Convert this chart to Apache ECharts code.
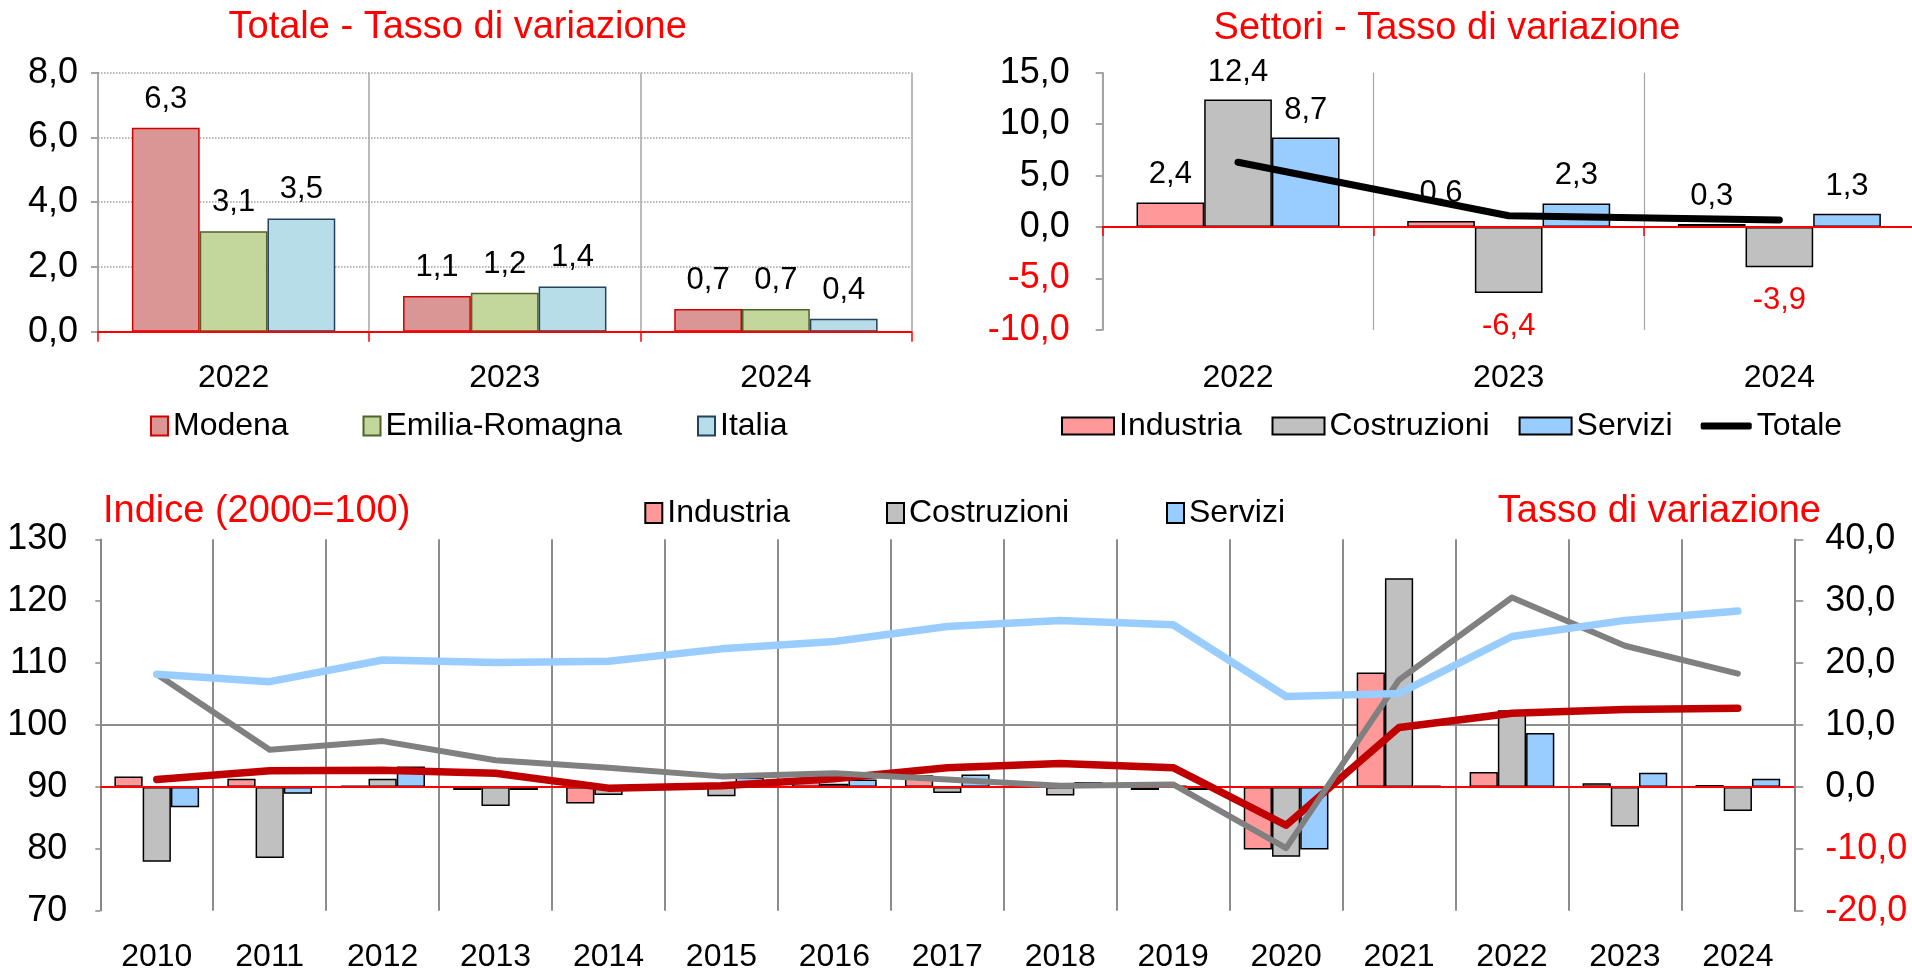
<!DOCTYPE html>
<html>
<head>
<meta charset="utf-8">
<script src="https://cdn.jsdelivr.net/npm/echarts@6/dist/echarts.min.js"></script>
<style>
  html, body { margin: 0; padding: 0; background: #fff; }
  #chart { width: 1912px; height: 971px; }
</style>
</head>
<body>
<div id="chart"></div>
<script>
// ---- Totale: tasso di variazione ----
const totYears = ['2022', '2023', '2024'];
const modena = [6.3, 1.1, 0.7];
const emiliaRomagna = [3.1, 1.2, 0.7];
const italia = [3.5, 1.4, 0.4];

// ---- Settori: tasso di variazione ----
const secYears = ['2022', '2023', '2024'];
const secIndustria = [2.4, 0.6, 0.3];
const secCostruzioni = [12.4, -6.4, -3.9];
const secServizi = [8.7, 2.3, 1.3];
const secTotale = [6.3, 1.1, 0.7];

// ---- Serie storica: indice (2000=100) e tasso di variazione ----
const years = ['2010', '2011', '2012', '2013', '2014', '2015', '2016', '2017',
               '2018', '2019', '2020', '2021', '2022', '2023', '2024'];
const idxIndustria   = [91.2, 92.6, 92.7, 92.2, 89.8, 90.2, 91.3, 93.1, 93.8, 93.1, 83.8, 99.6, 101.9, 102.5, 102.7];
const idxCostruzioni = [108.2, 96.0, 97.4, 94.3, 93.1, 91.7, 92.2, 91.2, 90.2, 90.4, 80.1, 107.3, 120.6, 112.8, 108.3];
const idxServizi     = [108.2, 107.0, 110.5, 110.1, 110.3, 112.3, 113.5, 115.9, 116.9, 116.2, 104.6, 105.1, 114.3, 116.9, 118.4];
const varIndustria   = [1.7, 1.3, 0.2, -0.5, -2.7, 0.4, 1.0, 1.9, 0.7, -0.5, -10.1, 18.5, 2.4, 0.6, 0.3];
const varCostruzioni = [-12.1, -11.5, 1.3, -3.1, -1.3, -1.5, 0.5, -1.0, -1.4, 0.2, -11.3, 33.7, 12.4, -6.4, -3.9];
const varServizi     = [-3.3, -1.1, 3.3, -0.5, 0.2, 1.5, 1.2, 2.0, 0.8, -0.5, -10.1, 0.2, 8.7, 2.3, 1.3];

const FONT = '"Liberation Sans", Arial, Helvetica, sans-serif';
const RED = '#FF0000';
const AXIS_GRAY = '#868686';
const fmt = v => Number(v).toFixed(1).replace('.', ',');
const signColor = v => (parseFloat(v) < 0 ? RED : '#000000');

const chart = echarts.init(document.getElementById('chart'), null, { renderer: 'canvas' });

function valueAxis(gridIndex, min, max, interval, extra) {
  return Object.assign({
    type: 'value', gridIndex, min, max, interval,
    axisLine: { show: true, lineStyle: { color: AXIS_GRAY, width: 1.5 } },
    axisTick: { show: true, length: 7, lineStyle: { color: AXIS_GRAY, width: 1.5 } },
    axisLabel: { fontFamily: FONT, fontSize: 36, color: '#000', margin: 20, formatter: fmt },
    splitLine: { show: false }
  }, extra || {});
}

function legendEntry(name, left, top, w, h, icon) {
  return {
    data: [{ name, icon: icon || 'rect' }],
    left, top, itemWidth: w, itemHeight: h,
    padding: 0, itemGap: 0, selectedMode: false,
    textStyle: { fontFamily: FONT, fontSize: 32, color: '#000' }
  };
}

function barLabel(distance) {
  return {
    show: true, position: 'top', distance,
    fontFamily: FONT, fontSize: 31, color: '#000',
    formatter: p => fmt(p.value)
  };
}

// negative values get their label under the bar, in red
const signedData = arr => arr.map(v => v < 0
  ? { value: v, label: { position: 'bottom', distance: 18, color: RED } }
  : { value: v });

const sectorBarStyle = color => ({ color, borderColor: '#000', borderWidth: 1.5 });

const titleText = (text, x, y, align) => ({
  type: 'text', x, y,
  style: { text, fill: RED, fontFamily: FONT, fontSize: 38, align, verticalAlign: 'middle' }
});

const option = {
  animation: false,
  backgroundColor: '#ffffff',
  textStyle: { fontFamily: FONT },
  grid: [
    { left: 98, top: 72.7, width: 813.5, height: 259, outerBoundsMode: 'none' },
    { left: 1102.7, top: 72.7, width: 812, height: 257.3, outerBoundsMode: 'none' },
    { left: 100.3, top: 539.3, width: 1694, height: 371.4, outerBoundsMode: 'none' }
  ],
  xAxis: [
    {
      type: 'category', gridIndex: 0, data: totYears, z: 3,
      axisLine: { show: true, lineStyle: { color: RED, width: 2 } },
      axisTick: { show: true, length: 10, lineStyle: { color: RED, width: 1.5 } },
      axisLabel: { fontFamily: FONT, fontSize: 32, color: '#000', margin: 30, interval: 0 },
      splitLine: { show: true, lineStyle: { color: '#A6A6A6', width: 1.5 } }
    },
    {
      type: 'category', gridIndex: 1, data: secYears, z: 3,
      axisLine: { show: true, onZero: true, lineStyle: { color: RED, width: 2 } },
      axisTick: { show: true, length: 9, lineStyle: { color: RED, width: 1.5 } },
      axisLabel: { fontFamily: FONT, fontSize: 32, color: '#000', margin: 32, interval: 0 },
      splitLine: { show: true, lineStyle: { color: '#A6A6A6', width: 1.2 } }
    },
    {
      type: 'category', gridIndex: 2, data: years,
      axisLine: { show: false },
      axisTick: { show: false },
      axisLabel: { fontFamily: FONT, fontSize: 32, color: '#000', margin: 30, interval: 0 },
      splitLine: { show: true, lineStyle: { color: '#8C8C8C', width: 2 } }
    }
  ],
  yAxis: [
    valueAxis(0, 0, 8, 2, {
      splitLine: { show: true, lineStyle: { color: '#A0A0A0', type: 'dotted', width: 1.5 } }
    }),
    valueAxis(1, -10, 15, 5, {
      axisLabel: { fontFamily: FONT, fontSize: 36, margin: 33, formatter: fmt, color: signColor }
    }),
    valueAxis(2, 70, 130, 10, {
      position: 'left',
      axisTick: { show: true, length: 5, lineStyle: { color: AXIS_GRAY, width: 1.5 } },
      axisLabel: { fontFamily: FONT, fontSize: 36, color: '#000', margin: 33 }
    }),
    valueAxis(2, -20, 40, 10, {
      position: 'right',
      axisTick: { show: true, length: 9, lineStyle: { color: AXIS_GRAY, width: 1.5 } },
      axisLabel: { fontFamily: FONT, fontSize: 36, margin: 31, formatter: fmt, color: signColor }
    })
  ],
  legend: [
    legendEntry('Modena', 150, 410, 17, 19),
    legendEntry('Emilia-Romagna', 362.5, 410, 17, 19),
    legendEntry('Italia', 697, 410, 17, 19),
    legendEntry('Industria', 1061, 410, 52, 17),
    legendEntry('Costruzioni', 1271.5, 410, 52, 17),
    legendEntry('Servizi', 1518.6, 410, 52, 17),
    legendEntry('Totale', 1700.7, 410, 51, 7, 'roundRect'),
    legendEntry('Industria', 644.3, 497, 17, 20),
    legendEntry('Costruzioni', 886, 497, 17, 20),
    legendEntry('Servizi', 1166, 497, 17, 20)
  ],
  graphic: [
    titleText('Totale - Tasso di variazione', 457.7, 28, 'center'),
    titleText('Settori - Tasso di variazione', 1447, 29, 'center'),
    titleText('Indice (2000=100)', 103, 512, 'left'),
    titleText('Tasso di variazione', 1821, 512, 'right')
  ],
  series: [
    // Totale: Modena / Emilia-Romagna / Italia
    { name: 'Modena', type: 'bar', xAxisIndex: 0, yAxisIndex: 0, data: modena,
      barGap: '0%', barCategoryGap: '25%',
      itemStyle: { color: '#D99694', borderColor: '#D00000', borderWidth: 1.5 }, label: barLabel(13) },
    { name: 'Emilia-Romagna', type: 'bar', xAxisIndex: 0, yAxisIndex: 0, data: emiliaRomagna,
      barGap: '0%', barCategoryGap: '25%',
      itemStyle: { color: '#C3D69B', borderColor: '#4F6228', borderWidth: 1.5 }, label: barLabel(13) },
    { name: 'Italia', type: 'bar', xAxisIndex: 0, yAxisIndex: 0, data: italia,
      barGap: '0%', barCategoryGap: '25%',
      itemStyle: { color: '#B7DEE8', borderColor: '#254061', borderWidth: 1.5 }, label: barLabel(13) },

    // Settori
    { name: 'Industria', type: 'bar', xAxisIndex: 1, yAxisIndex: 1, data: signedData(secIndustria),
      barGap: '0%', barCategoryGap: '25%', itemStyle: sectorBarStyle('#FF9999'), label: barLabel(12) },
    { name: 'Costruzioni', type: 'bar', xAxisIndex: 1, yAxisIndex: 1, data: signedData(secCostruzioni),
      barGap: '0%', barCategoryGap: '25%', itemStyle: sectorBarStyle('#C0C0C0'), label: barLabel(12) },
    { name: 'Servizi', type: 'bar', xAxisIndex: 1, yAxisIndex: 1, data: signedData(secServizi),
      barGap: '0%', barCategoryGap: '25%', itemStyle: sectorBarStyle('#99CCFF'), label: barLabel(12) },
    { name: 'Totale', type: 'line', xAxisIndex: 1, yAxisIndex: 1, data: secTotale, z: 4,
      symbol: 'none', itemStyle: { color: '#000' },
      lineStyle: { color: '#000', width: 7, cap: 'round', join: 'round' } },

    // Serie storica: tassi di variazione (asse destro)
    { name: 'Industria', type: 'bar', xAxisIndex: 2, yAxisIndex: 3, data: varIndustria,
      barGap: '0%', barCategoryGap: '25%', itemStyle: sectorBarStyle('#FF9999'),
      markLine: { silent: true, symbol: 'none', z: 2.5, label: { show: false },
                  lineStyle: { color: RED, width: 2, type: 'solid' }, data: [{ yAxis: 0 }] } },
    { name: 'Costruzioni', type: 'bar', xAxisIndex: 2, yAxisIndex: 3, data: varCostruzioni,
      barGap: '0%', barCategoryGap: '25%', itemStyle: sectorBarStyle('#C0C0C0') },
    { name: 'Servizi', type: 'bar', xAxisIndex: 2, yAxisIndex: 3, data: varServizi,
      barGap: '0%', barCategoryGap: '25%', itemStyle: sectorBarStyle('#99CCFF') },

    // Serie storica: indici (asse sinistro)
    { name: 'Indice Industria', type: 'line', xAxisIndex: 2, yAxisIndex: 2, data: idxIndustria, z: 3,
      symbol: 'none', itemStyle: { color: '#C00000' },
      lineStyle: { color: '#C00000', width: 7.5, cap: 'round', join: 'round' } },
    { name: 'Indice Costruzioni', type: 'line', xAxisIndex: 2, yAxisIndex: 2, data: idxCostruzioni, z: 3,
      symbol: 'none', itemStyle: { color: '#808080' },
      lineStyle: { color: '#808080', width: 6, cap: 'round', join: 'round' } },
    { name: 'Indice Servizi', type: 'line', xAxisIndex: 2, yAxisIndex: 2, data: idxServizi, z: 3,
      symbol: 'none', itemStyle: { color: '#99CCFF' },
      lineStyle: { color: '#99CCFF', width: 7.5, cap: 'round', join: 'round' },
      markLine: { silent: true, symbol: 'none', z: 1, label: { show: false },
                  lineStyle: { color: '#8C8C8C', width: 2, type: 'solid' }, data: [{ yAxis: 100 }] } }
  ]
};

chart.setOption(option);
</script>
</body>
</html>
